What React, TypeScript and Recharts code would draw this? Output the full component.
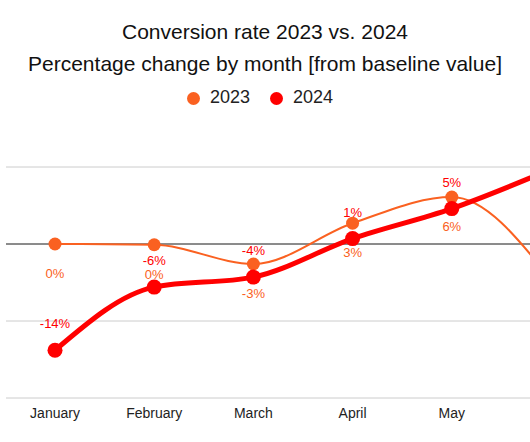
import { CartesianGrid, LabelList, Legend, Line, LineChart, ReferenceLine, XAxis, YAxis } from "recharts";

const months = ["January", "February", "March", "April", "May", "June"];
const shownMonths = ["January", "February", "March", "April", "May"];
const conv2023 = [0, -0.1, -2.6, 2.7, 6.1, -4.6];
const conv2024 = [-13.8, -5.6, -4.3, 0.7, 4.6, 9.7];
// rounded annotation values shown next to the points
const labels2023 = [0, 0, -3, 3, 6];
const labels2024 = [-14, -6, -4, 1, 5];
const yTicks = [-20, -10, 0, 10];

const ORANGE = "#FA6121";
const RED = "#FF0000";

const data = months.map((month, i) => ({
  month,
  y2023: conv2023[i],
  y2024: conv2024[i],
  lab2023: labels2023[i],
  lab2024: labels2024[i],
}));

const pct = (v: any) => `${v}%`;

const legendText = (value: string) => (
  <span style={{ color: "#222", marginLeft: 6, marginRight: 10 }}>{value}</span>
);

export default function App() {
  return (
    <div
      style={{
        position: "fixed",
        top: 0,
        left: 0,
        width: 530,
        height: 442,
        overflow: "hidden",
        background: "#fff",
        fontFamily: "'Liberation Sans', Arial, sans-serif",
      }}
    >
      <div
        style={{
          position: "absolute",
          top: 16,
          left: 0,
          width: 530,
          textAlign: "center",
          fontSize: 21,
          lineHeight: "32px",
          color: "#111",
          zIndex: 1,
        }}
      >
        Conversion rate 2023 vs. 2024
        <br />
        Percentage change by month [from baseline value]
      </div>
      <LineChart
        width={600}
        height={442}
        data={data}
        margin={{ top: 167, right: 0, bottom: 14, left: 6 }}
      >
        <CartesianGrid horizontal vertical={false} stroke="#ccc" />
        <XAxis
          dataKey="month"
          axisLine={false}
          tickLine={false}
          ticks={shownMonths}
          interval={0}
          height={30}
          tickMargin={4}
          padding={{ left: 49, right: 49 }}
          tick={{ fill: "#222", fontSize: 14 }}
        />
        <YAxis hide domain={[-20, 10]} ticks={yTicks} />
        <ReferenceLine y={0} stroke="#333" />
        <Legend
          verticalAlign="middle"
          align="center"
          layout="horizontal"
          iconType="circle"
          iconSize={13}
          formatter={legendText}
          wrapperStyle={{ top: 87, left: 5, width: 530, fontSize: 18 }}
        />
        <Line
          name="2023"
          type="monotone"
          dataKey="y2023"
          stroke={ORANGE}
          strokeWidth={2}
          dot={{ r: 6.5, fill: ORANGE, stroke: ORANGE, strokeWidth: 0 }}
          activeDot={false}
          isAnimationActive={false}
        >
          <LabelList dataKey="lab2023" position="bottom" offset={25} fill={ORANGE} fontSize={13} formatter={pct} />
        </Line>
        <Line
          name="2024"
          type="monotone"
          dataKey="y2024"
          stroke={RED}
          strokeWidth={5}
          dot={{ r: 7.5, fill: RED, stroke: RED, strokeWidth: 0 }}
          activeDot={false}
          isAnimationActive={false}
        >
          <LabelList dataKey="lab2024" position="top" offset={22} fill={RED} fontSize={13} formatter={pct} />
        </Line>
      </LineChart>
    </div>
  );
}
